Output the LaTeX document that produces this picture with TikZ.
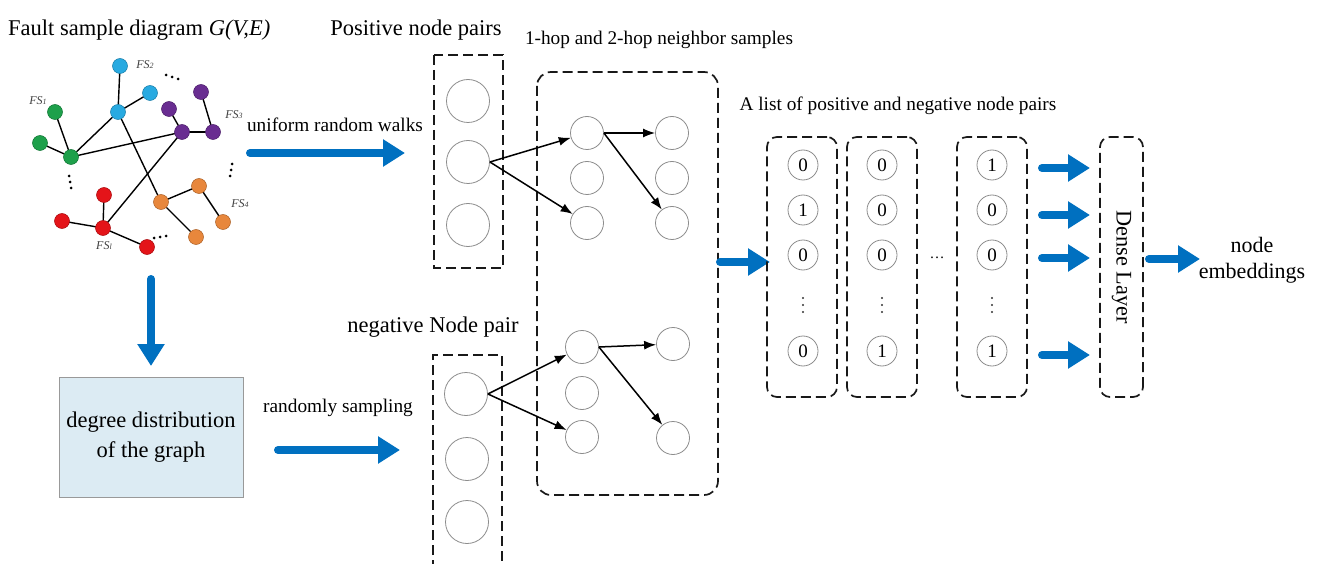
\documentclass[tikz,border=0pt]{standalone}
\usepackage{fontspec}
\setmainfont{Liberation Serif}
\usetikzlibrary{arrows.meta}
\definecolor{arrblue}{RGB}{0,112,192}
\definecolor{cyanc}{RGB}{40,170,225}
\definecolor{greenc}{RGB}{30,160,75}
\definecolor{purplec}{RGB}{105,45,145}
\definecolor{orangec}{RGB}{232,135,60}
\definecolor{redc}{RGB}{228,20,25}
\definecolor{boxfill}{RGB}{220,235,243}
\tikzset{
  bigtxt/.style={font=\rmfamily\fontsize{22.5}{26}\selectfont, inner sep=0pt},
  midtxt/.style={font=\rmfamily\fontsize{19.3}{23}\selectfont, inner sep=0pt},
  fslab/.style={font=\rmfamily\fontsize{12}{14}\selectfont\itshape, text=black!75, inner sep=0pt},
  bigarrow/.style={draw=arrblue, line width=8pt, line cap=round, -{Triangle[length=22pt,width=26pt]}},
  dbox/.style={draw=black!90, line width=1.7pt, dash pattern=on 10pt off 5pt},
  pc/.style={circle, draw=black!45, line width=0.8pt, minimum size=43pt, inner sep=0pt},
  sc/.style={circle, draw=black!45, line width=0.8pt, minimum size=33pt, inner sep=0pt},
  lc/.style={circle, draw=black!45, line width=0.8pt, minimum size=30pt, inner sep=0pt, font=\rmfamily\fontsize{19}{22}\selectfont},
  blk/.style={draw=black, line width=1.5pt, -{Latex[length=12pt,width=9pt]}},
  gn/.style={circle, minimum size=14pt, inner sep=0pt, draw=#1!75!black, line width=0.5pt, fill=#1},
  gedge/.style={draw=black, line width=1.4pt},
  listbox/.style={dbox, rounded corners=10pt, minimum width=70pt, minimum height=260pt, inner sep=0pt},
  gdot/.style={circle, fill=black, inner sep=0pt, minimum size=3pt},
  ldot/.style={circle, fill=black!80, inner sep=0pt, minimum size=2.2pt}
}
\begin{document}
\begin{tikzpicture}[x=1pt,y=-1pt]
\useasboundingbox (0,0) rectangle (1317,564);

% ---------- title
\node[bigtxt, anchor=west] (title) at (8,30) {Fault sample diagram \textit{G(V,E)}};

% ---------- graph
\node[gn=cyanc] (c1) at (120,66) {};
\node[gn=cyanc] (c2) at (150,93) {};
\node[gn=cyanc] (c3) at (118,112) {};
\node[gn=greenc] (g1) at (55,112) {};
\node[gn=greenc] (g2) at (40,143) {};
\node[gn=greenc] (g3) at (71,157) {};
\node[gn=purplec] (u1) at (201,92) {};
\node[gn=purplec] (u2) at (169,109) {};
\node[gn=purplec] (u3) at (182,132) {};
\node[gn=purplec] (u4) at (213,132) {};
\node[gn=orangec] (o1) at (199,186) {};
\node[gn=orangec] (o2) at (161,202) {};
\node[gn=orangec] (o3) at (223,222) {};
\node[gn=orangec] (o4) at (196,237) {};
\node[gn=redc] (r1) at (104,195) {};
\node[gn=redc] (r2) at (62,221) {};
\node[gn=redc] (r3) at (103,228) {};
\node[gn=redc] (r4) at (147,247) {};
\draw[gedge] (c1) -- (c3);
\draw[gedge] (c2) -- (c3);
\draw[gedge] (c3) -- (g3);
\draw[gedge] (c3) -- (o2);
\draw[gedge] (g1) -- (g3);
\draw[gedge] (g2) -- (g3);
\draw[gedge] (g3) -- (u3);
\draw[gedge] (u2) -- (u3);
\draw[gedge] (u1) -- (u4);
\draw[gedge] (u3) -- (u4);
\draw[gedge] (u3) -- (r3);
\draw[gedge] (r1) -- (r3);
\draw[gedge] (r2) -- (r3);
\draw[gedge] (r3) -- (r4);
\draw[gedge] (o2) -- (o1);
\draw[gedge] (o1) -- (o3);
\draw[gedge] (o2) -- (o4);
\foreach \n/\c in {c1/cyanc,c2/cyanc,c3/cyanc,g1/greenc,g2/greenc,g3/greenc,u1/purplec,u2/purplec,u3/purplec,u4/purplec,o1/orangec,o2/orangec,o3/orangec,o4/orangec,r1/redc,r2/redc,r3/redc,r4/redc}
  \fill[\c, draw=\c!75!black, line width=0.5pt] (\n.center) circle (7.5pt);

% FS labels
\node[fslab] (fs2) at (145,65) {FS{\fontsize{8}{9}\selectfont 2}};
\node[fslab] (fs1) at (38,101) {FS{\fontsize{8}{9}\selectfont 1}};
\node[fslab] (fs3) at (234,115) {FS{\fontsize{8}{9}\selectfont 3}};
\node[fslab] (fs4) at (240,204) {FS{\fontsize{8}{9}\selectfont 4}};
\node[fslab] (fsl) at (104,246) {FS{\fontsize{8}{9}\selectfont l}};

% dots
\foreach \p in {(166,75),(172,77),(178,79)} \node[gdot] at \p {};
\foreach \p in {(232,164),(231,170),(230,176)} \node[gdot] at \p {};
\foreach \p in {(69,176),(70,182),(71,188)} \node[gdot] at \p {};
\foreach \p in {(154,238),(160,237),(166,236)} \node[gdot] at \p {};

% ---------- uniform random walks arrow
\node[midtxt] (urw) at (335,125) {uniform random walks};
\coordinate (urwS) at (250,153);
\coordinate (urwE) at (405,153);
\draw[bigarrow] (urwS) -- (urwE);

% ---------- down arrow + degree box
\coordinate (dS) at (151,279);
\coordinate (dE) at (151,366);
\draw[bigarrow] (dS) -- (dE);
\node[draw=black!40, line width=0.8pt, fill=boxfill, minimum width=184pt, minimum height=120pt, align=center, font=\rmfamily\fontsize{22.5}{30}\selectfont] (deg) at (151,437) {degree distribution\\of the graph};

% ---------- randomly sampling arrow
\node[midtxt] (rs) at (338,408) {randomly sampling};
\coordinate (rsS) at (278,450);
\coordinate (rsE) at (400,450);
\draw[bigarrow] (rsS) -- (rsE);

% ---------- positive node pairs
\node[bigtxt] (plab) at (416,30) {Positive node pairs};
\draw[dbox] (434,55) rectangle (503,268);
\node[pc] (p1) at (468,101) {};
\node[pc] (p2) at (468,162) {};
\node[pc] (p3) at (468,225) {};

% ---------- negative node pair
\node[bigtxt] (nlab) at (433,327) {negative Node pair};
\draw[dbox] (433,570) -- (433,355) -- (502,355) -- (502,570);
\node[pc] (q1) at (466,394) {};
\node[pc] (q2) at (467,459) {};
\node[pc] (q3) at (467,522) {};

% ---------- neighbor samples box
\node[midtxt] (hlab) at (659,40) {1-hop and 2-hop neighbor samples};
\draw[dbox, rounded corners=14pt] (537,72) rectangle (718,495);
\node[sc] (h1) at (587,133) {};
\node[sc] (h2) at (587,178) {};
\node[sc] (h3) at (587,223) {};
\node[sc] (h4) at (672,133) {};
\node[sc] (h5) at (672,178) {};
\node[sc] (h6) at (672,223) {};
\node[sc] (b1) at (582,347) {};
\node[sc] (b2) at (582,393) {};
\node[sc] (b3) at (582,437) {};
\node[sc] (b4) at (673,344) {};
\node[sc] (b6) at (673,438) {};
\draw[blk] (p2.east) -- (h1);
\draw[blk] (p2.east) -- (h3);
\draw[blk] (h1.east) -- (h4);
\draw[blk] (h1.east) -- (h6);
\draw[blk] (q1.east) -- (b1);
\draw[blk] (q1.east) -- (b3);
\draw[blk] (b1.east) -- (b4);
\draw[blk] (b1.east) -- (b6);

% ---------- arrow to list
\coordinate (lS) at (720,262);
\coordinate (lE) at (770,262);
\draw[bigarrow] (lS) -- (lE);

% ---------- list
\node[midtxt] (llab) at (898,106) {A list of positive and negative node pairs};
\node[listbox] (L1) at (802,267) {};
\node[listbox] (L2) at (882,267) {};
\node[listbox] (L3) at (992,267) {};
\foreach \x/\a/\b/\c/\d/\nm in {803/0/1/0/0/a, 882/0/0/0/1/b, 992/1/0/0/1/c}{
  \node[lc] (\nm1) at (\x,165) {\a};
  \node[lc] (\nm2) at (\x,210) {\b};
  \node[lc] (\nm3) at (\x,255) {\c};
  \foreach \yy in {298,305,312} \node[ldot] at (\x,\yy) {};
  \node[lc] (\nm5) at (\x,351) {\d};
}
\node[font=\rmfamily\fontsize{15}{18}\selectfont, inner sep=0pt] (ldots) at (937,258) {\dots};

% ---------- arrows to dense layer
\foreach \y/\k in {168/1,215/2,258/3,355/4}{
  \coordinate (dlS\k) at (1042,\y);
  \coordinate (dlE\k) at (1090,\y);
  \draw[bigarrow] (dlS\k) -- (dlE\k);
}
\node[dbox, rounded corners=10pt, rotate=-90, minimum width=260pt, minimum height=43pt, inner sep=0pt, font=\rmfamily\fontsize{22.3}{26}\selectfont] (dense) at (1121.5,267) {Dense Layer};

% ---------- output
\coordinate (oS) at (1149,259);
\coordinate (oE) at (1200,259);
\draw[bigarrow] (oS) -- (oE);
\node[align=center, font=\rmfamily\fontsize{22}{26}\selectfont, inner sep=0pt] (emb) at (1252,260) {node\\embeddings};
\end{tikzpicture}
\end{document}
